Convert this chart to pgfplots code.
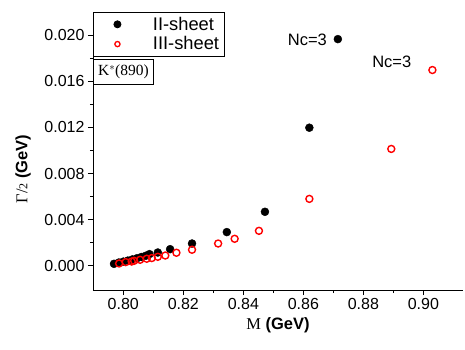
\documentclass[border=0pt]{standalone}
\usepackage{pgfplots}
\pgfplotsset{compat=1.18}
\usepackage{fontspec}
\setmainfont{Liberation Sans}
\newfontfamily\serif{Liberation Serif}
\begin{document}
\begin{tikzpicture}
\path[use as bounding box] (-93pt,-59pt) rectangle (372pt,290pt);
\begin{axis}[
  at={(0,0)}, anchor=south west,
  scale only axis, width=370pt, height=278pt,
  xmin=0.7899, xmax=0.9132, ymin=-0.0021, ymax=0.022,
  axis x line=bottom, axis y line=left,
  axis line style={-, line width=0.9pt},
  tick align=outside,
  major tick length=5pt, minor tick length=3pt,
  every tick/.style={black, line width=0.9pt},
  xtick={0.80,0.82,0.84,0.86,0.88,0.90},
  ytick={0,0.004,0.008,0.012,0.016,0.020},
  minor x tick num=1, minor y tick num=1,
  scaled ticks=false,
  /pgf/number format/assume math mode=true,
  xticklabel style={/pgf/number format/.cd, fixed, fixed zerofill, precision=2},
  yticklabel style={/pgf/number format/.cd, fixed, fixed zerofill, precision=3},
  tick label style={font=\fontsize{16}{18}\selectfont},
  xlabel={{\serif M} \textbf{(GeV)}},
  ylabel={{\serif Γ/{\fontsize{12}{14}\selectfont 2}} \textbf{(GeV)}},
  label style={font=\fontsize{16.5}{19}\selectfont},
  xlabel style={at={(axis description cs:0.5,0)}, anchor=north, yshift=-24pt},
  ylabel style={at={(axis description cs:-0.189,0.435)}, anchor=center, rotate=0},
  legend style={at={(axis description cs:0,1)}, anchor=north west,
    draw=black, line width=0.9pt, font=\fontsize{18.3}{20}\selectfont,
    inner xsep=3pt, inner ysep=2pt, row sep=0pt,
    nodes={inner sep=2.5pt}},
  legend cell align=left,
  clip=false,
]
\addplot[only marks, mark=*, mark size=4pt, black, legend image code/.code={\path[draw=none,fill=none] (0pt,0pt) -- (40pt,0pt); \fill[black] (21pt,0pt) circle[radius=3.5pt];}] coordinates {
(0.7969,0.00017) (0.7985,0.00028) (0.8000,0.00036) (0.8015,0.00045)
(0.8030,0.00055) (0.8045,0.00065) (0.8060,0.00076) (0.8075,0.00087)
(0.8087,0.00101) (0.8115,0.00115) (0.8156,0.00144) (0.8229,0.00193)
(0.8345,0.00292) (0.8472,0.00468) (0.8620,0.01197) (0.8715,0.01965)
};
\addlegendentry{\hspace{14pt}II-sheet}
\addplot[only marks, mark=o, mark size=3.5pt, red, line width=1.4pt, legend image code/.code={\path[draw=none,fill=none] (0pt,0pt) -- (40pt,0pt); \draw[red, line width=1.3pt] (21pt,0pt) circle[radius=2.6pt];}] coordinates {
(0.7986,0.00020) (0.8008,0.00032) (0.8028,0.00037) (0.8036,0.00043)
(0.8056,0.00052) (0.8078,0.00061) (0.8095,0.00067) (0.8115,0.00078)
(0.8140,0.00089) (0.8177,0.00113) (0.8229,0.00139) (0.8316,0.00193)
(0.8371,0.00234) (0.8452,0.00303) (0.8620,0.00580) (0.8893,0.01013)
(0.9030,0.01697)
};
\addlegendentry{\hspace{14pt}III-sheet}
\node[anchor=east, font=\fontsize{16.5}{19}\selectfont, inner sep=0pt] at (axis cs:0.8679,0.01957) {Nc=3};
\node[anchor=west, font=\fontsize{16.5}{19}\selectfont, inner sep=0pt] at (axis cs:0.8829,0.01766) {Nc=3};
\node[draw=black, line width=0.9pt, anchor=north west, minimum width=60pt, minimum height=25pt, inner sep=1pt, font=\serif\fontsize{15.5}{17}\selectfont] at ([yshift=-47pt]axis description cs:0,1) {K$^{*}$(890)};
\end{axis}
\end{tikzpicture}
\end{document}
